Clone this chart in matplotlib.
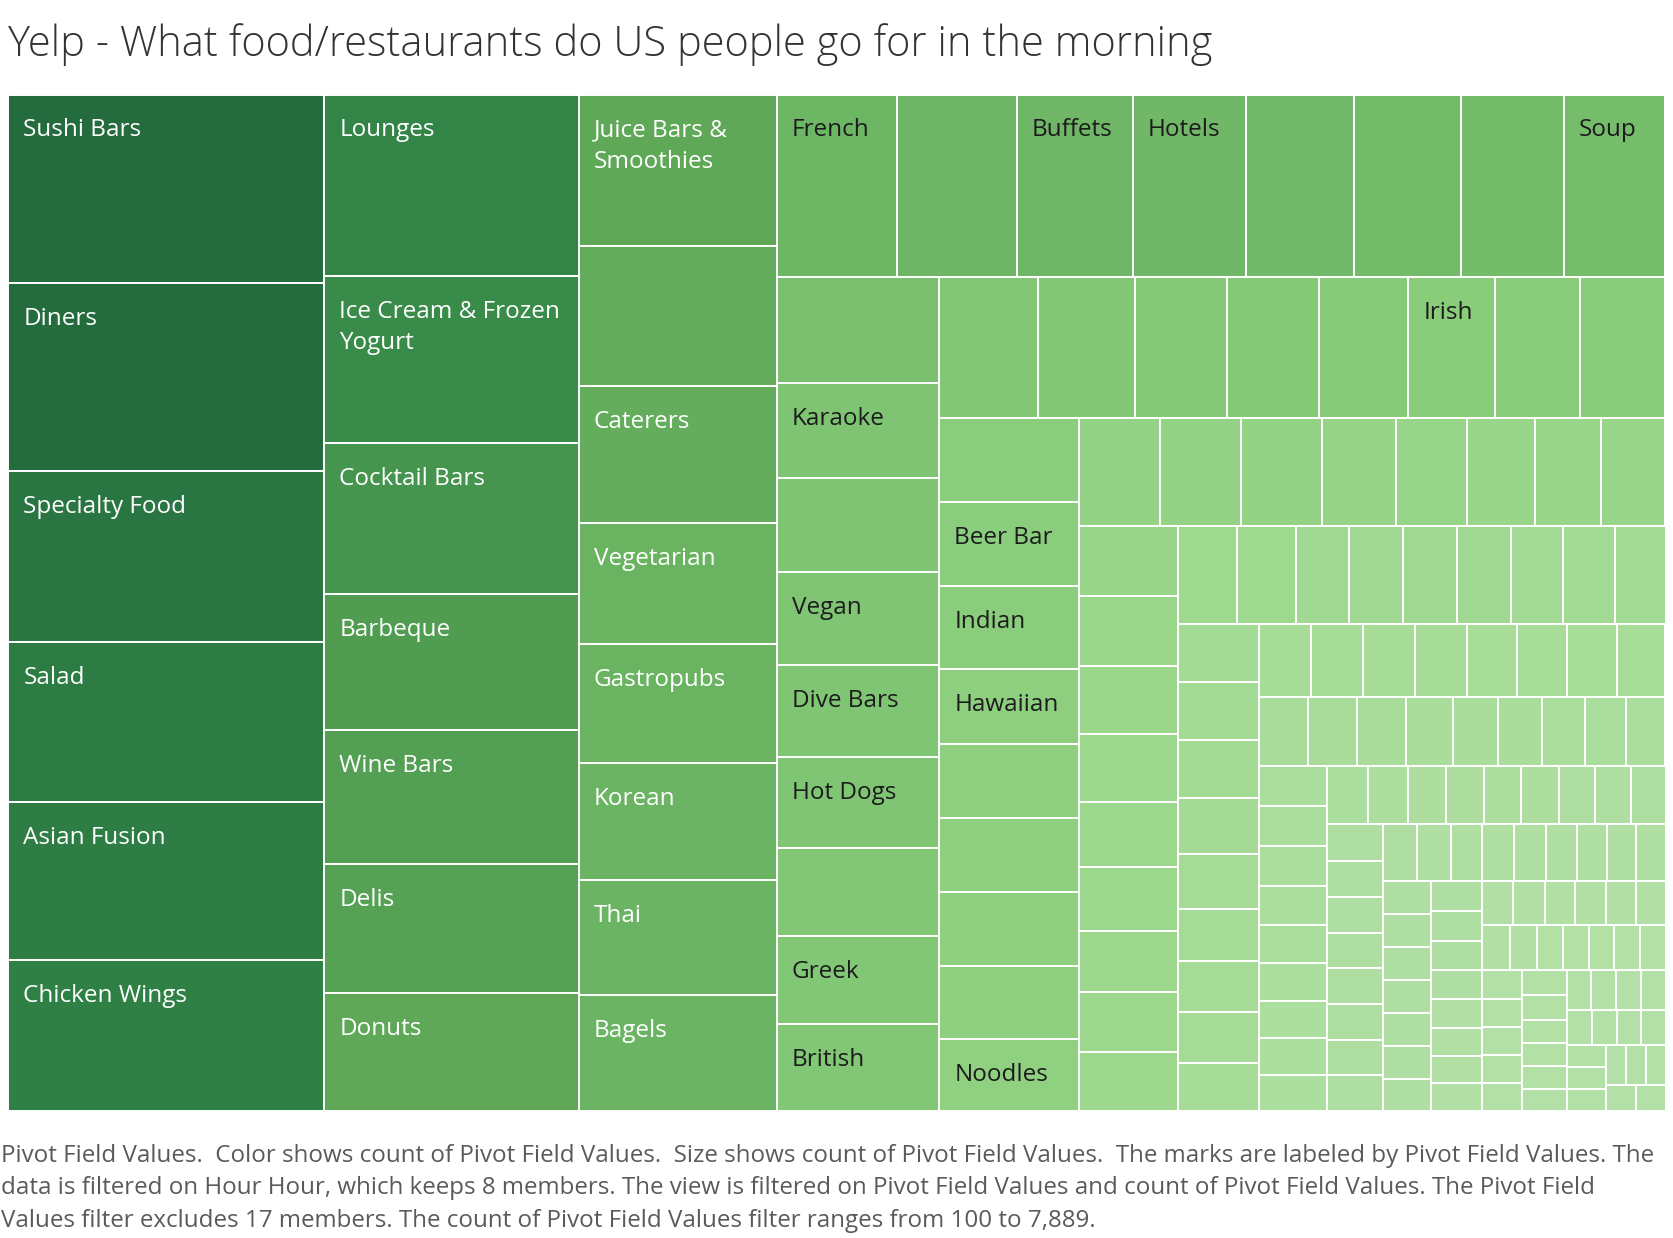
import matplotlib
matplotlib.use("Agg")
import matplotlib.pyplot as plt
from matplotlib.colors import LinearSegmentedColormap, Normalize
from matplotlib.patches import Rectangle

# ---------------- data ----------------
title = "Yelp - What food/restaurants do US people go for in the morning"

footer_lines = [
    "Pivot Field Values.  Color shows count of Pivot Field Values.  Size shows count of Pivot Field Values.  The marks are labeled by Pivot Field Values. The",
    "data is filtered on Hour Hour, which keeps 8 members. The view is filtered on Pivot Field Values and count of Pivot Field Values. The Pivot Field",
    "Values filter excludes 17 members. The count of Pivot Field Values filter ranges from 100 to 7,889.",
]

# labels shown in the view (cells whose label is hidden in the reference are "")
labels = [
    "Sushi Bars", "Diners", "Specialty Food", "Salad", "Asian Fusion", "Chicken Wings",
    "Lounges", "Ice Cream & Frozen Yogurt", "Cocktail Bars", "Barbeque", "Wine Bars", "Delis", "Donuts",
    "Juice Bars & Smoothies", "", "Caterers", "Vegetarian", "Gastropubs", "Korean", "Thai", "Bagels",
    "French", "", "Buffets", "Hotels", "", "", "", "Soup",
    "", "Karaoke", "", "Vegan", "Dive Bars", "Hot Dogs", "", "Greek", "British",
    "", "", "", "", "", "Irish", "", "",
    "", "Beer Bar", "Indian", "Hawaiian", "", "", "", "", "Noodles",
] + [""] * 142

# count of Pivot Field Values (sorted descending)
counts = [
    7889, 7845, 7132, 6686, 6597, 6329,
    6113, 5646, 5070, 4603, 4495, 4351, 3992,
    3969, 3662, 3606, 3159, 3131, 3047, 3033, 3030,
    2900, 2890, 2792, 2736, 2610, 2556, 2499, 2443,
    2287, 2044, 2021, 2010, 1975, 1970, 1889, 1885, 1880,
    1843, 1833, 1725, 1715, 1682, 1617, 1609, 1596,
    1552, 1542, 1532, 1385, 1365, 1362, 1355, 1352, 1326,
    1163, 1156, 1150, 1050, 1020, 967, 930, 925,
    925, 915, 899, 890, 850, 845, 800, 794, 770,
    763, 760, 697, 697, 697, 697, 672, 672, 655,
    623, 621, 619, 598, 582, 555, 546, 540, 515,
    515, 507, 506, 506, 487, 487, 480, 476,
    452, 448, 444, 428, 410, 405, 391, 372, 363,
    363, 358, 358, 353, 348, 343, 334, 334, 324,
    322, 306, 291, 291, 291, 287, 281, 276, 268,
    268, 268, 266, 266, 265, 265, 264, 264,
    256, 252, 236, 236, 236, 236, 221, 220, 218,
    214, 213, 211, 211, 210, 210, 206,
    205, 199, 195, 193, 190, 188, 186, 185,
    184, 182, 178, 177, 176, 171,
    168, 163, 158, 157, 156, 155, 154,
    153, 151, 150, 149, 148,
    147, 142, 140, 136, 133, 129,
    129, 129, 128, 127,
    119, 118, 117, 115,
    115, 115, 114,
    106, 104, 103,
    102, 100,
]

palette = ["#b3e0a6", "#9bd78b", "#87cb79", "#75bc6b", "#68b260",
           "#5fa858", "#4c9a50", "#3b8d4b", "#2e8045", "#2a7742", "#246b3e"]


# ---------------- squarified layout ----------------
def worst(sizes, length, target):
    thick = sum(sizes) / length
    w = 1.0
    for a in sizes:
        r = thick / (a / thick)
        w = max(w, r / target, target / r)
    return w


def squarify(values, width, height, target=1.618):
    total = float(sum(values))
    areas = [v * width * height / total for v in values]
    x, y, dx, dy = 0.0, 0.0, float(width), float(height)
    rects = []
    while areas:
        if len(areas) == 1:
            rects.append((x, y, dx, dy))
            break
        length = min(dx, dy)
        i = 1
        while i < len(areas) and worst(areas[:i + 1], length, target) <= worst(areas[:i], length, target):
            i += 1
        strip, areas = areas[:i], areas[i:]
        thick = sum(strip) / length
        if dx >= dy:
            yy = y
            for a in strip:
                h = a / thick
                rects.append((x, yy, thick, h))
                yy += h
            x += thick
            dx -= thick
        else:
            xx = x
            for a in strip:
                w = a / thick
                rects.append((xx, y, w, thick))
                xx += w
            y += thick
            dy -= thick
    return rects


# ---------------- figure ----------------
W_PX, H_PX = 1674, 1238
fig = plt.figure(figsize=(W_PX / 100, H_PX / 100), dpi=100)
fig.patch.set_facecolor("white")

PX0, PY0, PW, PH = 8.5, 94.5, 1657.0, 1016.5
ax = fig.add_axes([PX0 / W_PX, 1 - (PY0 + PH) / H_PX, PW / W_PX, PH / H_PX])
ax.set_xlim(0, PW)
ax.set_ylim(PH, 0)
ax.axis("off")

cmap = LinearSegmentedColormap.from_list("tableau_green", palette)
norm = Normalize(min(counts), max(counts))

rects = squarify(counts, PW, PH)
for (x, y, w, h), c in zip(rects, counts):
    ax.add_patch(Rectangle((x, y), w, h, facecolor=cmap(norm(c)),
                           edgecolor="white", linewidth=1.4))

LABEL_FONT = "Open Sans"
LABEL_SIZE = 17.5
renderer = fig.canvas.get_renderer()


def text_width(s):
    t = ax.text(0, 0, s, fontsize=LABEL_SIZE, family=LABEL_FONT)
    wpx = t.get_window_extent(renderer).width
    t.remove()
    return wpx


PAD_L, PAD_R, BASE, LINE = 15.0, 4.0, 42.0, 31.0
for (x, y, w, h), c, name in zip(rects, counts, labels):
    if not name:
        continue
    avail = w - PAD_L - PAD_R
    lines, cur = [], ""
    for word in name.split():
        cand = (cur + " " + word).strip()
        if text_width(cand) <= avail or not cur:
            cur = cand
        else:
            lines.append(cur)
            cur = word
    lines.append(cur)
    if any(text_width(l) > avail for l in lines):
        continue
    if BASE + LINE * (len(lines) - 1) + 8 > h:
        continue
    color = "white" if norm(c) > 0.37 else "#1c1c1c"
    for k, line in enumerate(lines):
        ax.text(x + PAD_L, y + BASE + k * LINE, line, fontsize=LABEL_SIZE,
                family=LABEL_FONT, color=color, va="baseline", ha="left")

# title
fig.text(8 / W_PX, 1 - 56 / H_PX, title, fontsize=30, family="Open Sans",
         fontweight="light", color="#333333", va="baseline", ha="left")

# footer
for k, line in enumerate(footer_lines):
    fig.text(1 / W_PX, 1 - (1161.7 + 32.5 * k) / H_PX, line, fontsize=17.4,
             family="Open Sans", color="#5a5a5a", va="baseline", ha="left")

fig.savefig("out.png", dpi=100, facecolor="white")
